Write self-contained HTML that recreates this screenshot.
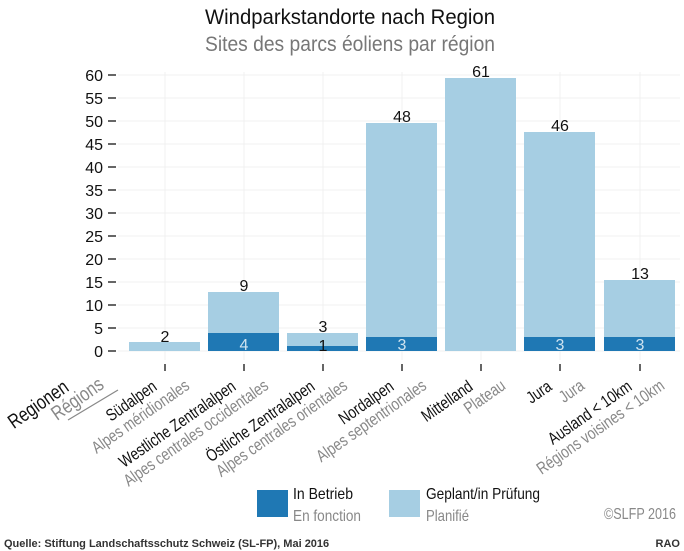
<!DOCTYPE html>
<html><head><meta charset="utf-8"><style>
body{margin:0;background:#fff;}
svg{display:block;font-family:"Liberation Sans Narrow","Liberation Sans",sans-serif;}
</style></head><body>
<svg width="684" height="551" viewBox="0 0 684 551" xmlns="http://www.w3.org/2000/svg">
<rect width="684" height="551" fill="#fff"/>
<text x="350" y="24" text-anchor="middle" font-size="21" fill="#111" textLength="290" lengthAdjust="spacingAndGlyphs">Windparkstandorte nach Region</text>
<text x="350" y="51" text-anchor="middle" font-size="21" fill="#777" textLength="290" lengthAdjust="spacingAndGlyphs">Sites des parcs éoliens par région</text>
<g stroke="#f0f0f0" stroke-width="1">
<line x1="118" y1="351" x2="680" y2="351"/><line x1="118" y1="328" x2="680" y2="328"/><line x1="118" y1="305" x2="680" y2="305"/><line x1="118" y1="282" x2="680" y2="282"/><line x1="118" y1="259" x2="680" y2="259"/><line x1="118" y1="236" x2="680" y2="236"/><line x1="118" y1="213" x2="680" y2="213"/><line x1="118" y1="190" x2="680" y2="190"/><line x1="118" y1="167" x2="680" y2="167"/><line x1="118" y1="144" x2="680" y2="144"/><line x1="118" y1="121" x2="680" y2="121"/><line x1="118" y1="98" x2="680" y2="98"/><line x1="118" y1="75" x2="680" y2="75"/>
<line x1="165" y1="72" x2="165" y2="360"/><line x1="244" y1="72" x2="244" y2="360"/><line x1="323" y1="72" x2="323" y2="360"/><line x1="402" y1="72" x2="402" y2="360"/><line x1="481" y1="72" x2="481" y2="360"/><line x1="560" y1="72" x2="560" y2="360"/><line x1="640" y1="72" x2="640" y2="360"/>
</g>
<g font-size="16" fill="#111" text-anchor="end">
<text x="103" y="357">0</text><text x="103" y="334">5</text><text x="103" y="311">10</text><text x="103" y="288">15</text><text x="103" y="265">20</text><text x="103" y="242">25</text><text x="103" y="219">30</text><text x="103" y="196">35</text><text x="103" y="173">40</text><text x="103" y="150">45</text><text x="103" y="127">50</text><text x="103" y="104">55</text><text x="103" y="81">60</text>
</g>
<g stroke="#333" stroke-width="1.5">
<line x1="108" y1="351" x2="116" y2="351"/><line x1="108" y1="328" x2="116" y2="328"/><line x1="108" y1="305" x2="116" y2="305"/><line x1="108" y1="282" x2="116" y2="282"/><line x1="108" y1="259" x2="116" y2="259"/><line x1="108" y1="236" x2="116" y2="236"/><line x1="108" y1="213" x2="116" y2="213"/><line x1="108" y1="190" x2="116" y2="190"/><line x1="108" y1="167" x2="116" y2="167"/><line x1="108" y1="144" x2="116" y2="144"/><line x1="108" y1="121" x2="116" y2="121"/><line x1="108" y1="98" x2="116" y2="98"/><line x1="108" y1="75" x2="116" y2="75"/>
<line x1="165" y1="364" x2="165" y2="371"/><line x1="244" y1="364" x2="244" y2="371"/><line x1="323" y1="364" x2="323" y2="371"/><line x1="402" y1="364" x2="402" y2="371"/><line x1="481" y1="364" x2="481" y2="371"/><line x1="560" y1="364" x2="560" y2="371"/><line x1="640" y1="364" x2="640" y2="371"/>
</g>
<g fill="#a6cee3">
<rect x="129" y="342" width="71" height="9"/>
<rect x="208" y="292" width="71" height="59"/>
<rect x="287" y="333" width="71" height="18"/>
<rect x="366" y="123" width="71" height="228"/>
<rect x="445" y="78" width="71" height="273"/>
<rect x="524" y="132" width="71" height="219"/>
<rect x="604" y="280" width="71" height="71"/>
</g>
<g fill="#1f78b4">
<rect x="208" y="333" width="71" height="18"/>
<rect x="287" y="346" width="71" height="5"/>
<rect x="366" y="337" width="71" height="14"/>
<rect x="524" y="337" width="71" height="14"/>
<rect x="604" y="337" width="71" height="14"/>
</g>
<g font-size="16" fill="#111" text-anchor="middle">
<text x="165" y="342">2</text><text x="244" y="291">9</text><text x="323" y="332">3</text><text x="402" y="122">48</text><text x="481" y="77">61</text><text x="560" y="131">46</text><text x="640" y="279">13</text>
<text x="323" y="351">1</text>
</g>
<g font-size="16" fill="#cfe3f0" text-anchor="middle">
<text x="244" y="350">4</text><text x="402" y="350">3</text><text x="560" y="350">3</text><text x="640" y="350">3</text>
</g>
<g font-size="17" text-anchor="end">
<g transform="translate(70,390) rotate(-35) scale(0.8,1)"><text fill="#111" font-size="20">Regionen</text><text x="38" y="18" fill="#888" font-size="20">Régions</text></g>
<g transform="translate(158,389) rotate(-35) scale(0.8,1)"><text fill="#111">Südalpen</text><text x="34" y="18" fill="#888">Alpes méridionales</text></g>
<g transform="translate(237,389) rotate(-35) scale(0.8,1)"><text fill="#111">Westliche Zentralalpen</text><text x="34" y="18" fill="#888">Alpes centrales occidentales</text></g>
<g transform="translate(316,389) rotate(-35) scale(0.8,1)"><text fill="#111">Östliche Zentralalpen</text><text x="34" y="18" fill="#888">Alpes centrales orientales</text></g>
<g transform="translate(395,389) rotate(-35) scale(0.8,1)"><text fill="#111">Nordalpen</text><text x="34" y="18" fill="#888">Alpes septentrionales</text></g>
<g transform="translate(474,389) rotate(-35) scale(0.8,1)"><text fill="#111">Mittelland</text><text x="34" y="18" fill="#888">Plateau</text></g>
<g transform="translate(553,389) rotate(-35) scale(0.8,1)"><text fill="#111">Jura</text><text x="34" y="18" fill="#888">Jura</text></g>
<g transform="translate(633,389) rotate(-35) scale(0.8,1)"><text fill="#111">Ausland &lt; 10km</text><text x="34" y="18" fill="#888">Régions voisines &lt; 10km</text></g>
</g>
<line x1="68" y1="420" x2="118" y2="390" stroke="#888" stroke-width="1.2"/>
<rect x="257" y="490" width="31" height="27" fill="#1f78b4"/>
<text x="293" y="499" font-size="16" fill="#111" textLength="60" lengthAdjust="spacingAndGlyphs">In Betrieb</text>
<text x="293" y="521" font-size="16" fill="#888" textLength="68" lengthAdjust="spacingAndGlyphs">En fonction</text>
<rect x="389" y="490" width="31" height="27" fill="#a6cee3"/>
<text x="426" y="499" font-size="16" fill="#111" textLength="114" lengthAdjust="spacingAndGlyphs">Geplant/in Prüfung</text>
<text x="426" y="521" font-size="16" fill="#888" textLength="43" lengthAdjust="spacingAndGlyphs">Planifié</text>
<text x="676" y="519" font-size="16" fill="#888" text-anchor="end" textLength="72" lengthAdjust="spacingAndGlyphs">©SLFP 2016</text>
<text x="4" y="547" font-size="11" font-weight="bold" fill="#333" font-family="Liberation Sans, sans-serif">Quelle: Stiftung Landschaftsschutz Schweiz (SL-FP), Mai 2016</text>
<text x="680" y="547" font-size="11" font-weight="bold" fill="#333" text-anchor="end" font-family="Liberation Sans, sans-serif">RAO</text>
</svg>
</body></html>
